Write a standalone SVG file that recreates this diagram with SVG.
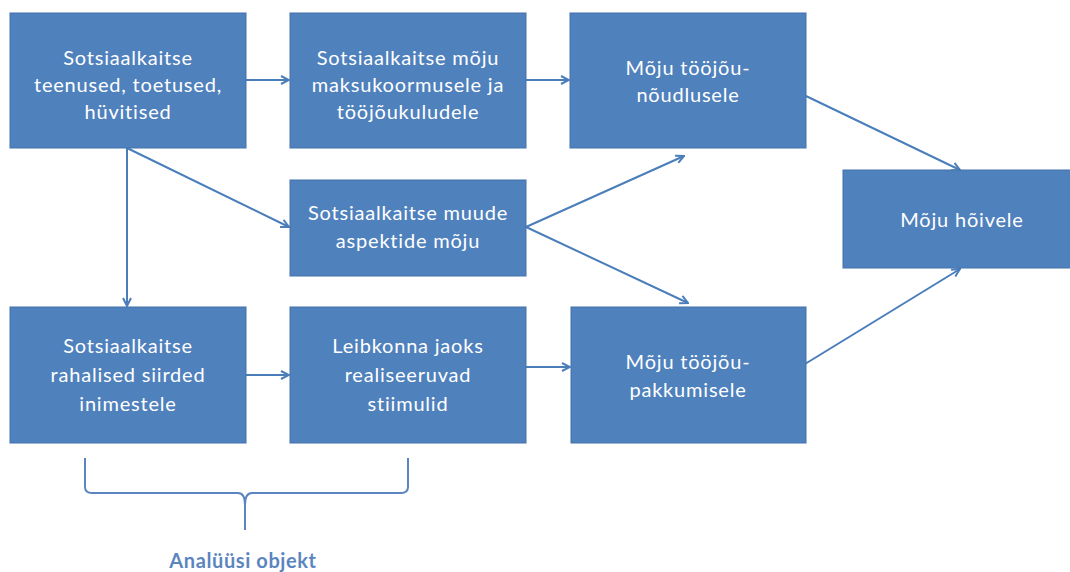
<svg xmlns="http://www.w3.org/2000/svg" width="1070" height="572" viewBox="0 0 1070 572">
<style>
.box{fill:#4F81BD;stroke:#4372AA;stroke-width:1}
.t{font-family:Lato,"Open Sans","Liberation Sans",sans-serif;font-size:20px;letter-spacing:0.8px;fill:#ffffff;text-anchor:middle}
.c{fill:none;stroke:#4A7EBB;stroke-width:2}
.lbl{font-family:Lato,"Open Sans","Liberation Sans",sans-serif;font-size:20px;letter-spacing:0.6px;font-weight:bold;fill:#5B85C0;text-anchor:middle}
</style>
<defs>
<marker id="arr" viewBox="0 0 10 10" refX="9" refY="5" markerWidth="10" markerHeight="10" markerUnits="userSpaceOnUse" orient="auto">
<path d="M1,1 L9,5 L1,9" fill="none" stroke="#4A7EBB" stroke-width="2"/>
</marker>
</defs>
<rect width="1070" height="572" fill="#ffffff"/>
<g id="connectors">
<line class="c" x1="246" y1="80" x2="289" y2="80" marker-end="url(#arr)"/>
<line class="c" x1="526" y1="80" x2="569" y2="80" marker-end="url(#arr)"/>
<line class="c" x1="127" y1="148" x2="127" y2="306" marker-end="url(#arr)"/>
<line class="c" x1="127" y1="148" x2="289" y2="227" marker-end="url(#arr)"/>
<line class="c" x1="526" y1="227" x2="684" y2="156" marker-end="url(#arr)"/>
<line class="c" x1="526" y1="227" x2="688" y2="303" marker-end="url(#arr)"/>
<line class="c" x1="246" y1="375" x2="289" y2="375" marker-end="url(#arr)"/>
<line class="c" x1="526" y1="367" x2="570" y2="367" marker-end="url(#arr)"/>
<line class="c" x1="806" y1="96" x2="960" y2="170" marker-end="url(#arr)"/>
<line class="c" x1="805" y1="364" x2="960" y2="269" marker-end="url(#arr)"/>
</g>
<g id="n1">
<rect class="box" x="10" y="13" width="236" height="135"/>
<text class="t" x="128" y="65">Sotsiaalkaitse</text>
<text class="t" x="128" y="92">teenused, toetused,</text>
<text class="t" x="128" y="119">hüvitised</text>
</g>
<g id="n2">
<rect class="box" x="290" y="13" width="236" height="135"/>
<text class="t" x="408" y="65">Sotsiaalkaitse mõju</text>
<text class="t" x="408" y="92">maksukoormusele ja</text>
<text class="t" x="408" y="119">tööjõukuludele</text>
</g>
<g id="n3">
<rect class="box" x="570" y="13" width="236" height="135"/>
<text class="t" x="688" y="75">Mõju tööjõu-</text>
<text class="t" x="688" y="102">nõudlusele</text>
</g>
<g id="n4">
<rect class="box" x="290" y="180" width="236" height="96"/>
<text class="t" x="408" y="220">Sotsiaalkaitse muude</text>
<text class="t" x="408" y="248">aspektide mõju</text>
</g>
<g id="n5">
<rect class="box" x="10" y="307" width="236" height="136"/>
<text class="t" x="128" y="353">Sotsiaalkaitse</text>
<text class="t" x="128" y="382">rahalised siirded</text>
<text class="t" x="128" y="411">inimestele</text>
</g>
<g id="n6">
<rect class="box" x="290" y="307" width="236" height="136"/>
<text class="t" x="408" y="353">Leibkonna jaoks</text>
<text class="t" x="408" y="382">realiseeruvad</text>
<text class="t" x="408" y="411">stiimulid</text>
</g>
<g id="n7">
<rect class="box" x="571" y="307" width="235" height="136"/>
<text class="t" x="688" y="369">Mõju tööjõu-</text>
<text class="t" x="688" y="397">pakkumisele</text>
</g>
<g id="n8">
<rect class="box" x="843" y="170" width="236" height="98"/>
<text class="t" x="962" y="227">Mõju hõivele</text>
</g>
<g id="brace">
<path d="M85,458 L85,487 Q85,493 92,493 L238,493 Q245,493 245,505 L245,530 M245,505 Q245,493 252,493 L401,493 Q408,493 408,487 L408,458" fill="none" stroke="#5B85C0" stroke-width="2"/>
<text class="lbl" x="243" y="568">Analüüsi objekt</text>
</g>
</svg>
